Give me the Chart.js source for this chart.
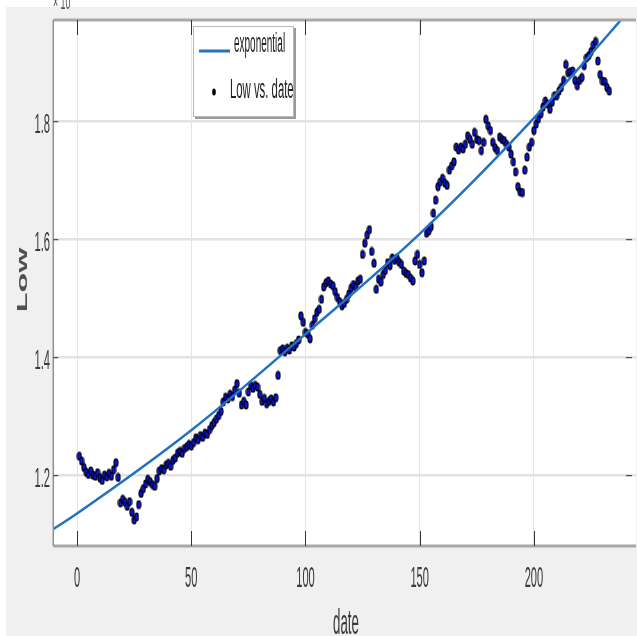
<!DOCTYPE html>
<html>
<head>
<meta charset="utf-8">
<script src="https://cdn.jsdelivr.net/npm/chart.js@4.4.1/dist/chart.umd.min.js"></script>
<style>
  html, body { margin: 0; padding: 0; background: #f0f0f0; overflow: hidden; }
  #wrap { width: 641px; height: 636px; }
</style>
</head>
<body>
<div id="wrap"><canvas id="chart" width="641" height="636"></canvas></div>
<script>
// Low price per trading day (x 10^4 on the axis)
const low = [
  12330, 12250, 12140, 12060, 12020, 12080, 12010, 11990, 12050, 11960,
  11920, 12010, 11980, 12040, 11990, 12100, 12220, 11970, 11540, 11600,
  11550, 11480, 11560, 11380, 11250, 11300, 11510, 11700, 11780, 11860,
  11940, 11900, 11850, 11820, 11950, 12080, 12120, 12100, 12180, 12210,
  12160, 12260, 12300, 12380, 12410, 12380, 12460, 12490, 12530, 12500,
  12560, 12640, 12610, 12680, 12650, 12720, 12700, 12780, 12850, 12900,
  12960, 13020, 13090, 13250, 13330, 13300, 13380, 13340, 13450, 13560,
  13400, 13200, 13260, 13200, 13420, 13530, 13480, 13530, 13500, 13380,
  13260, 13310, 13220, 13260, 13300, 13250, 13320, 13700, 14120, 14150,
  14100, 14160, 14130, 14200, 14180, 14240, 14300, 14710, 14600, 14430,
  14400, 14320, 14550, 14660, 14770, 14820, 14990, 15200, 15270, 15300,
  15250, 15220, 15120, 15020, 14950, 14880, 14920, 14990, 15080, 15180,
  15240, 15200, 15300, 15330, 15750, 15940, 16080, 16170, 15800, 15600,
  15160, 15330, 15280, 15410, 15480, 15610, 15560, 15690, 15650, 15690,
  15620, 15580, 15470, 15430, 15410, 15350, 15300, 15640, 15750, 15580,
  15440, 15640, 16110, 16150, 16220, 16450, 16670, 16900, 16980, 17040,
  16960, 16920, 17180, 17250, 17320, 17570, 17520, 17570, 17540, 17620,
  17760, 17700, 17620, 17820, 17700, 17680, 17510, 17650, 18040, 17930,
  17850, 17650, 17560, 17510, 17740, 17700, 17680, 17620, 17570, 17450,
  17320, 17150, 16900, 16810, 16800, 17180, 17400, 17570, 17650, 17850,
  17960, 18050, 18130, 18250, 18350, 18300, 18210, 18330, 18440, 18440,
  18520, 18580, 18700, 18970, 18830, 18850, 18860, 18700, 18610, 18700,
  18750, 18950, 19080, 19120, 19190, 19300, 19360, 19030, 18800, 18690,
  18680, 18580, 18520
];
const dates = low.map((v, i) => i + 1);

// exponential fit curve
const fitX = [-15, 0, 50, 100, 150, 200, 250];
const fitY = [10980, 11360, 12770, 14400, 16100, 18060, 20250];

const xTicks = [0, 50, 100, 150, 200];
const yTicks = [12000, 14000, 16000, 18000];
const yTickLabels = ['1.2', '1.4', '1.6', '1.8'];

const blue = '#2372c0';
const textColor = '#3a3a3a';

// marker: black blob with blue centre, tall like the stretched original
const dot = document.createElement('canvas');
dot.width = 6; dot.height = 10;
const d = dot.getContext('2d');
d.fillStyle = '#000';
d.beginPath(); d.ellipse(3, 5, 2.6, 4.6, 0, 0, 2 * Math.PI); d.fill();
d.fillStyle = '#0a14e6';
d.beginPath(); d.ellipse(3, 5, 1.5, 3.0, 0, 0, 2 * Math.PI); d.fill();

function txt(ctx, s, x, y, o) {
  ctx.save();
  ctx.translate(x, y);
  if (o.rotate) ctx.rotate(o.rotate);
  ctx.scale(o.sx || 1, o.sy || 1);
  ctx.font = o.font;
  ctx.fillStyle = o.color || textColor;
  ctx.textAlign = o.align || 'center';
  ctx.textBaseline = o.baseline || 'alphabetic';
  ctx.fillText(s, 0, 0);
  ctx.restore();
}

const background = {
  id: 'background',
  beforeDraw(chart) {
    const { ctx, chartArea: a } = chart;
    ctx.save();
    ctx.fillStyle = '#f0f0f0';
    ctx.fillRect(0, 0, chart.width, chart.height);
    ctx.fillStyle = '#fff';
    ctx.fillRect(0, 0, chart.width, 7);
    ctx.fillRect(0, 0, 6, chart.height);
    ctx.fillRect(a.left, a.top, a.right - a.left, a.bottom - a.top);
    ctx.restore();
  }
};

const axesDecor = {
  id: 'axesDecor',
  afterDraw(chart) {
    const { ctx, chartArea: a, scales } = chart;
    ctx.save();
    // frame
    ctx.strokeStyle = '#a8a8a8';
    ctx.lineWidth = 3;
    ctx.beginPath();
    ctx.moveTo(a.left, a.top); ctx.lineTo(a.right, a.top);
    ctx.moveTo(a.left, a.bottom); ctx.lineTo(a.right, a.bottom);
    ctx.stroke();
    ctx.lineWidth = 1.5;
    ctx.strokeStyle = '#909090';
    ctx.beginPath();
    ctx.moveTo(a.left, a.top); ctx.lineTo(a.left, a.bottom);
    ctx.stroke();
    // inward ticks
    ctx.strokeStyle = '#333';
    ctx.lineWidth = 1;
    ctx.beginPath();
    xTicks.forEach(v => {
      const px = Math.round(scales.x.getPixelForValue(v)) + 0.5;
      ctx.moveTo(px, a.bottom); ctx.lineTo(px, a.bottom - 15);
      ctx.moveTo(px, a.top); ctx.lineTo(px, a.top + 15);
    });
    yTicks.forEach(v => {
      const py = scales.y.getPixelForValue(v);
      ctx.moveTo(a.left, py); ctx.lineTo(a.left + 5, py);
      ctx.moveTo(a.right - 4, py); ctx.lineTo(a.right - 10, py);
    });
    ctx.stroke();
    ctx.restore();

    // tick labels
    xTicks.forEach(v => {
      txt(ctx, String(v), scales.x.getPixelForValue(v), 587,
        { font: '30px "Liberation Sans", Arial, sans-serif', sx: 0.37 });
    });
    yTicks.forEach((v, i) => {
      txt(ctx, yTickLabels[i], 50, scales.y.getPixelForValue(v) + 11,
        { font: '28px "Liberation Sans", Arial, sans-serif', sx: 0.4, align: 'right' });
    });
    // axis titles
    txt(ctx, 'date', 346, 634, { font: '35px "Liberation Sans", Arial, sans-serif', sx: 0.38 });
    txt(ctx, 'Low', 23, 280, { font: 'bold 15px "Liberation Sans", Arial, sans-serif',
      rotate: -Math.PI / 2, sx: 2.15, baseline: 'middle', color: '#505050' });
    // exponent (cut off at the top)
    txt(ctx, '× 10', 53, 9, { font: '22px "Liberation Sans", Arial, sans-serif', sx: 0.4,
      align: 'left', color: '#555' });

    // legend
    ctx.save();
    ctx.fillStyle = '#9a9a9a';
    ctx.fillRect(195, 28, 101, 91);
    ctx.fillStyle = '#fff';
    ctx.fillRect(193, 26, 101, 91);
    ctx.strokeStyle = '#b8b8b8';
    ctx.lineWidth = 1;
    ctx.strokeRect(193.5, 26.5, 100, 90);
    ctx.strokeStyle = blue;
    ctx.lineWidth = 3;
    ctx.beginPath(); ctx.moveTo(199, 51); ctx.lineTo(230, 51); ctx.stroke();
    ctx.fillStyle = '#000';
    ctx.beginPath(); ctx.ellipse(214, 92, 1.8, 3.6, 0, 0, 2 * Math.PI); ctx.fill();
    ctx.restore();
    const ds = chart.data.datasets;
    txt(ctx, ds[0].label, 234, 52, { font: '27px "Liberation Sans", Arial, sans-serif',
      sx: 0.37, align: 'left', color: '#222' });
    txt(ctx, ds[1].label, 230, 98, { font: '27px "Liberation Sans", Arial, sans-serif',
      sx: 0.42, align: 'left', color: '#222' });
  }
};

new Chart(document.getElementById('chart'), {
  type: 'scatter',
  data: {
    datasets: [{
      label: 'exponential',
      data: fitX.map((x, i) => ({ x: x, y: fitY[i] })),
      showLine: true,
      borderColor: blue,
      borderWidth: 2.5,
      pointRadius: 0,
      cubicInterpolationMode: 'monotone'
    }, {
      label: 'Low vs. date',
      data: low.map((v, i) => ({ x: dates[i], y: v })),
      pointStyle: dot,
      pointRadius: 3
    }]
  },
  options: {
    responsive: false,
    animation: false,
    layout: { padding: { top: 20, left: 0, right: 0, bottom: 0 } },
    plugins: { legend: { display: false }, tooltip: { enabled: false } },
    scales: {
      x: {
        type: 'linear',
        min: -10.4,
        max: 244.7,
        afterBuildTicks: s => { s.ticks = xTicks.map(v => ({ value: v })); },
        afterFit: s => { s.height = 90; },
        ticks: { display: false },
        grid: { color: '#e4e4e4', lineWidth: 1, drawTicks: false },
        border: { display: false }
      },
      y: {
        min: 10808,
        max: 19724,
        afterBuildTicks: s => { s.ticks = yTicks.map(v => ({ value: v })); },
        afterFit: s => { s.width = 53.3; },
        ticks: { display: false },
        grid: { color: '#e2e2e2', lineWidth: 2.5, drawTicks: false },
        border: { display: false }
      }
    }
  },
  plugins: [background, axesDecor]
});
</script>
</body>
</html>
